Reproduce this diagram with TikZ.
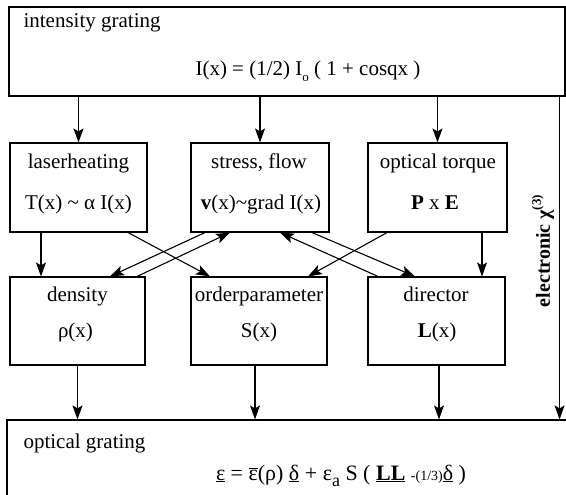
\documentclass[tikz,border=0pt]{standalone}
\usepackage{fontspec}
\setmainfont{Liberation Serif}
\usetikzlibrary{arrows.meta,calc}
\newcommand\lowtxt[2][13]{\raisebox{-0.28em}{\fontsize{#1}{#1}\selectfont #2}}
\begin{document}
\begin{tikzpicture}[x=1pt,y=-1pt,line width=1.1pt,
  font=\fontsize{21}{25}\selectfont,
  box/.style={draw, inner sep=0pt},
  lbl/.style={anchor=base, inner sep=0pt},
  arr/.style={-{Stealth[length=14pt,width=10pt,inset=3pt]}}]
\useasboundingbox (0,0) rectangle (566,495);
\clip (0,0) rectangle (566,495);
% top box
\node[box, minimum width=556pt, minimum height=89pt] (top) at (287,51.5) {};
\node[lbl, anchor=base west] (toptitle) at (23,28) {intensity grating};
\node[lbl] (topeq) at (308,76) {I(x) = (1/2) I\lowtxt{o} ( 1 + cosqx )};
% row 1
\node[box, minimum width=137pt, minimum height=89pt] (laser) at (78.5,187.5) {};
\node[lbl] (laserA) at (78.5,168) {laserheating};
\node[lbl] (laserB) at (78.5,209) {T(x) \textasciitilde{} α I(x)};
\node[box, minimum width=138pt, minimum height=89pt] (stress) at (260,187.5) {};
\node[lbl] (stressA) at (259,168) {stress, flow};
\node[lbl] (stressB) at (261,209) {\textbf{v}(x)\textasciitilde{}grad I(x)};
\node[box, minimum width=139pt, minimum height=89pt] (optical) at (437.5,187.5) {};
\node[lbl] (opticalA) at (438,168) {optical torque};
\node[lbl] (opticalB) at (435,209) {\textbf{P} x \textbf{E}};
% row 2
\node[box, minimum width=135pt, minimum height=88pt] (density) at (77.5,321) {};
\node[lbl] (densityA) at (77.5,301) {density};
\node[lbl] (densityB) at (75.5,337) {ρ(x)};
\node[box, minimum width=136pt, minimum height=88pt] (order) at (259,321) {};
\node[lbl] (orderA) at (259,301) {orderparameter};
\node[lbl] (orderB) at (259,337) {S(x)};
\node[box, minimum width=137pt, minimum height=88pt] (director) at (436.5,321) {};
\node[lbl] (directorA) at (436,301) {director};
\node[lbl] (directorB) at (437,337) {\textbf{L}(x)};
% bottom box
\node[box, minimum width=600pt, minimum height=120pt] (bottom) at (307,480) {};
\node[lbl, anchor=base west] (bottitle) at (23,448) {optical grating};
\node[lbl, font=\fontsize{22}{26}\selectfont] (boteq) at (341,480) {\underline{ε} = $\overline{\mbox{ε}}$(ρ) \underline{δ} + ε\lowtxt[18]{a} S ( \underline{\textbf{LL}} {\fontsize{14}{14}\selectfont -(1/3)}\underline{δ} )};
% electronic
\node[rotate=90, inner sep=0pt, font=\fontsize{20}{24}\selectfont\bfseries] (elec) at (543,251) {electronic χ\raisebox{0.45em}{\fontsize{13}{13}\selectfont (3)}};
\coordinate (eltop) at ($(top.south east)+(-6,0)$);
\draw[arr] (eltop) -- (eltop |- bottom.north);
% top to row 1
\draw[arr] (top.south -| laser.north) -- (laser.north);
\draw[arr] (top.south -| stress.north) -- (stress.north);
\draw[arr] (top.south -| optical.north) -- (optical.north);
% row 1 to row 2
\draw[arr] ([xshift=-37.5pt]laser.south) -- ([xshift=-36.5pt]density.north);
\draw[arr] ([xshift=49.5pt]laser.south) -- ([xshift=-49pt]order.north);
\draw[arr] ([xshift=-55pt]stress.south) -- ([xshift=32.5pt]density.north);
\draw[arr] ([xshift=59.5pt]density.north) -- ([xshift=-30pt]stress.south);
\draw[arr] ([xshift=-58.5pt]director.north) -- ([xshift=20pt]stress.south);
\draw[arr] ([xshift=52pt]stress.south) -- ([xshift=-21.5pt]director.north);
\draw[arr] ([xshift=-50.5pt]optical.south) -- ([xshift=49pt]order.north);
\draw[arr] ([xshift=44.5pt]optical.south) -- ([xshift=45.5pt]director.north);
% row 2 to bottom
\draw[arr] (density.south) -- (density.south |- bottom.north);
\coordinate (ordout) at ($(order.south)+(-4,0)$);
\draw[arr] (ordout) -- (ordout |- bottom.north);
\coordinate (dirout) at ($(director.south)+(2.5,0)$);
\draw[arr] (dirout) -- (dirout |- bottom.north);
\end{tikzpicture}
\end{document}
